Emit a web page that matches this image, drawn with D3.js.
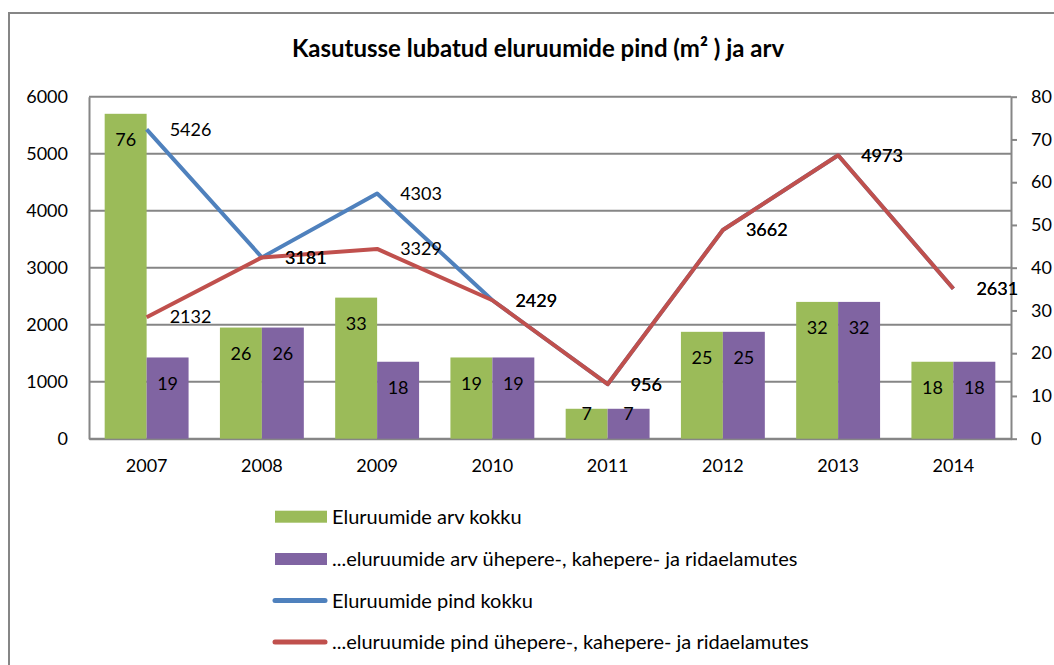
<!DOCTYPE html>
<html>
<head>
<meta charset="utf-8">
<script src="https://cdn.jsdelivr.net/npm/d3@7"></script>
<style>
  body { margin: 0; background: #fff; }
  text { font-family: Lato, "Open Sans", sans-serif; fill: #000; }
</style>
</head>
<body>
<svg width="1054" height="665"></svg>
<script>
// data
const years = ['2007', '2008', '2009', '2010', '2011', '2012', '2013', '2014'];
const countTotal = [76, 26, 33, 19, 7, 25, 32, 18];
const countHouses = [19, 26, 18, 19, 7, 25, 32, 18];
const areaTotal = [5426, 3181, 4303, 2429, 956, 3662, 4973, 2631];
const areaHouses = [2132, 3181, 3329, 2429, 956, 3662, 4973, 2631];
const leftTicks = [0, 1000, 2000, 3000, 4000, 5000, 6000];
const rightTicks = [0, 10, 20, 30, 40, 50, 60, 70, 80];
const seriesNames = [
  'Eluruumide arv kokku',
  '...eluruumide arv ühepere-, kahepere- ja ridaelamutes',
  'Eluruumide pind kokku',
  '...eluruumide pind ühepere-, kahepere- ja ridaelamutes'
];
const colors = ['#9bbb59', '#8064a2', '#4f81bd', '#c0504d'];

const svg = d3.select('svg');
const plotL = 89, plotR = 1011, plotT = 96.7, plotB = 438.7;
const grey = '#868686';

// outer frame
svg.append('rect')
  .attr('x', 9).attr('y', 13)
  .attr('width', 1200).attr('height', 800)
  .attr('fill', 'none').attr('stroke', grey).attr('stroke-width', 2);

svg.append('text')
  .attr('x', 538).attr('y', 57)
  .attr('text-anchor', 'middle')
  .style('font-weight', 'bold').style('font-size', '24px')
  .text('Kasutusse lubatud eluruumide pind (m² ) ja arv');

const x = d3.scaleBand().domain(years).range([plotL, plotR]);
const bw = x.bandwidth();
const xInner = d3.scaleBand().domain([0, 1]).range([bw * 0.136, bw * 0.864]);
const yL = d3.scaleLinear().domain([0, 6000]).range([plotB, plotT]);
const yR = d3.scaleLinear().domain([0, 80]).range([plotB, plotT]);

// gridlines
svg.append('g').selectAll('line').data(leftTicks).join('line')
  .attr('x1', plotL).attr('x2', plotR)
  .attr('y1', (d) => yL(d)).attr('y2', (d) => yL(d))
  .attr('stroke', grey).attr('stroke-width', 2);

// axes
const gL = svg.append('g').attr('transform', `translate(${plotL},0)`)
  .call(d3.axisLeft(yL).tickValues(leftTicks).tickSize(0).tickSizeOuter(0).tickPadding(21).tickFormat(d3.format('d')));
const gR = svg.append('g').attr('transform', `translate(${plotR},0)`)
  .call(d3.axisRight(yR).tickValues(rightTicks).tickSize(6).tickSizeOuter(0).tickPadding(14));
const gB = svg.append('g').attr('transform', `translate(0,${plotB})`)
  .call(d3.axisBottom(x).tickSize(0).tickSizeOuter(0).tickPadding(21));

[gL, gR, gB].forEach((g) => {
  g.select('.domain').attr('stroke', grey).attr('stroke-width', 2);
  g.selectAll('.tick line').attr('stroke', grey).attr('stroke-width', 2);
  g.selectAll('text').style('font-size', '18px').attr('fill', '#000');
});

// bars
const barSeries = [countTotal, countHouses];
barSeries.forEach((vals, s) => {
  const g = svg.append('g');
  g.selectAll('rect').data(vals).join('rect')
    .attr('x', (d, i) => x(years[i]) + xInner(s))
    .attr('width', xInner.bandwidth())
    .attr('y', (d) => yR(d))
    .attr('height', (d) => plotB - yR(d))
    .attr('fill', colors[s]);
});

// lines
const lineSeries = [areaTotal, areaHouses];
const line = d3.line()
  .x((d, i) => x(years[i]) + bw / 2)
  .y((d) => yL(d));
lineSeries.forEach((vals, s) => {
  svg.append('path').datum(vals)
    .attr('d', line)
    .attr('fill', 'none')
    .attr('stroke', colors[s + 2])
    .attr('stroke-width', 4)
    .attr('stroke-linejoin', 'round');
});

// bar labels (inside end)
barSeries.forEach((vals, s) => {
  svg.append('g').selectAll('text').data(vals).join('text')
    .attr('x', (d, i) => x(years[i]) + xInner(s) + xInner.bandwidth() / 2)
    .attr('y', (d) => Math.min(yR(d) + 26, plotB - 25))
    .attr('dy', '0.35em')
    .attr('text-anchor', 'middle')
    .style('font-size', '18px')
    .text((d) => d);
});

// line labels (right of point)
lineSeries.forEach((vals) => {
  svg.append('g').selectAll('text').data(vals).join('text')
    .attr('x', (d, i) => x(years[i]) + bw / 2 + 23)
    .attr('y', (d) => yL(d))
    .attr('dy', '0.35em')
    .style('font-size', '18px')
    .text((d) => d);
});

// legend
const legendY = [516.7, 559, 600.5, 642];
const lg = svg.append('g');
seriesNames.forEach((name, i) => {
  if (i < 2) {
    lg.append('rect')
      .attr('x', 275).attr('y', legendY[i] - 6)
      .attr('width', 52).attr('height', 12)
      .attr('fill', colors[i]);
  } else {
    lg.append('line')
      .attr('x1', 275).attr('x2', 325)
      .attr('y1', legendY[i]).attr('y2', legendY[i])
      .attr('stroke', colors[i]).attr('stroke-width', 5)
      .attr('stroke-linecap', 'round');
  }
  lg.append('text')
    .attr('x', 332).attr('y', legendY[i])
    .attr('dy', '0.35em')
    .style('font-size', '20px')
    .text(name);
});
</script>
</body>
</html>
